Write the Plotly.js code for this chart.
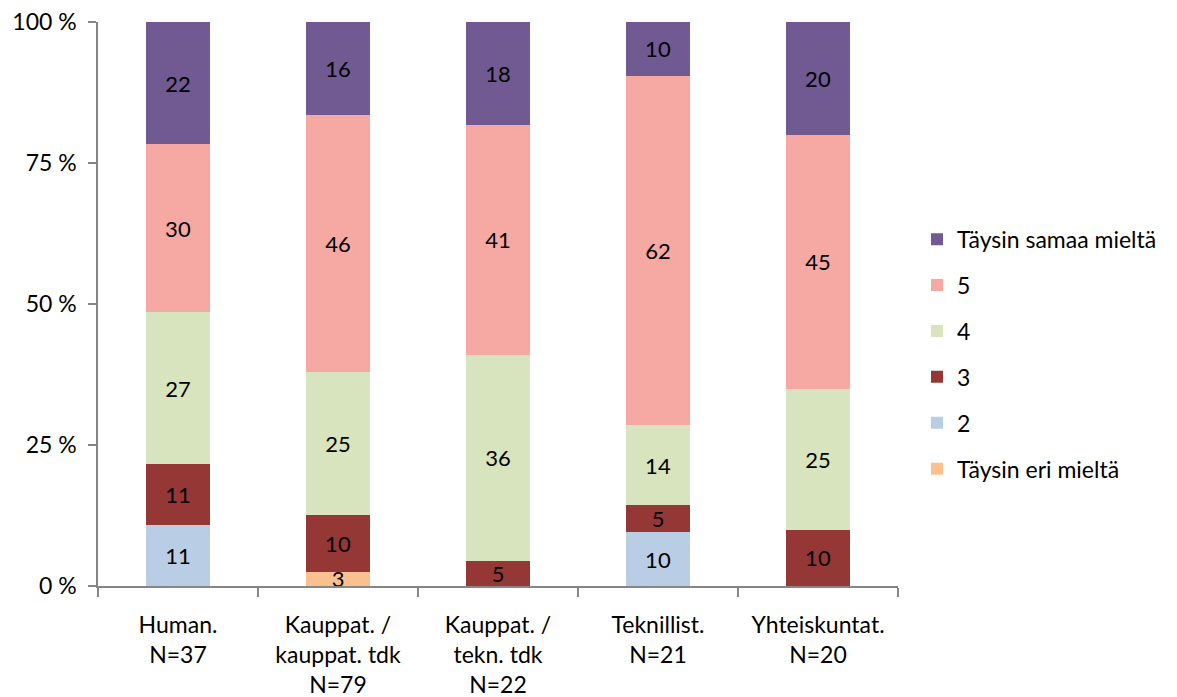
<!DOCTYPE html>
<html>
<head>
<meta charset="utf-8">
<script src="https://cdn.plot.ly/plotly-3.0.1.min.js"></script>
<style>html,body{margin:0;padding:0;background:#fff;}#chart{width:1177px;height:697px;}</style>
</head>
<body>
<div id="chart"></div>
<script>
const categories = ['Human.<br>N=37', 'Kauppat. /<br>kauppat. tdk<br>N=79', 'Kauppat. /<br>tekn. tdk<br>N=22', 'Teknillist.<br>N=21', 'Yhteiskuntat.<br>N=20'];
const seriesNames = ['Täysin eri mieltä', '2', '3', '4', '5', 'Täysin samaa mieltä'];
const seriesColors = ['#FAC08F', '#B9CDE5', '#953735', '#D7E4BD', '#F6A9A3', '#705A91'];
const taysinEri = [0, 2.5, 0, 0, 0];
const arvo2 = [10.8, 0, 0, 9.5, 0];
const arvo3 = [10.8, 10.1, 4.5, 4.8, 10];
const arvo4 = [27.0, 25.3, 36.4, 14.3, 25];
const arvo5 = [29.7, 45.7, 40.9, 61.9, 45];
const taysinSamaa = [21.7, 16.4, 18.2, 9.5, 20];
const seriesValues = [taysinEri, arvo2, arvo3, arvo4, arvo5, taysinSamaa];
const yTickVals = [0, 25, 50, 75, 100];
const yTickText = ['0 %', '25 %', '50 %', '75 %', '100 %'];

const FONT = 'Lato, "Open Sans", sans-serif';
const FS = 23;
const traces = seriesValues.map((vals, i) => ({
  type: 'bar',
  name: seriesNames[i],
  x: categories,
  y: vals,
  legendgroup: 'g' + i,
  legendrank: 100 - i,
  marker: {color: seriesColors[i], line: {width: 0}},
  text: vals.map(v => v > 0 ? String(Math.round(v)) : ''),
  textposition: 'inside',
  insidetextanchor: 'middle',
  textangle: 0,
  constraintext: 'none',
  textfont: {family: FONT, size: 22, color: '#000'},
  hoverinfo: 'name+y'
}));

const layout = {
  width: 1177, height: 697,
  margin: {l: 98, r: 279, t: 22, b: 111},
  paper_bgcolor: '#fff', plot_bgcolor: '#fff',
  barmode: 'stack',
  bargap: 0.6,
  font: {family: FONT, size: FS, color: '#000'},
  showlegend: true,
  legend: {
    x: 1.02375, xanchor: 'left', y: 0.411, yanchor: 'middle',
    traceorder: 'grouped', tracegroupgap: 13,
    font: {family: FONT, size: FS, color: '#000'},
    bgcolor: 'rgba(0,0,0,0)'
  },
  xaxis: {
    type: 'category',
    showline: true, linecolor: '#868686', linewidth: 1.5,
    ticks: 'outside', tickson: 'boundaries', ticklen: 9, tickcolor: '#868686', tickwidth: 1.5,
    showgrid: false, zeroline: false,
    ticklabelstandoff: 18,
    tickfont: {family: FONT, size: FS, color: '#000'}
  },
  yaxis: {
    range: [0, 100],
    tickmode: 'array',
    tickvals: yTickVals,
    ticktext: yTickText,
    showline: true, linecolor: '#868686', linewidth: 1.5,
    ticks: 'outside', ticklen: 8, tickcolor: '#868686', tickwidth: 1.5,
    showgrid: false, zeroline: false,
    ticklabelstandoff: 7,
    tickfont: {family: FONT, size: FS, color: '#000'}
  }
};

Plotly.newPlot('chart', traces, layout, {displayModeBar: false});
</script>
</body>
</html>
